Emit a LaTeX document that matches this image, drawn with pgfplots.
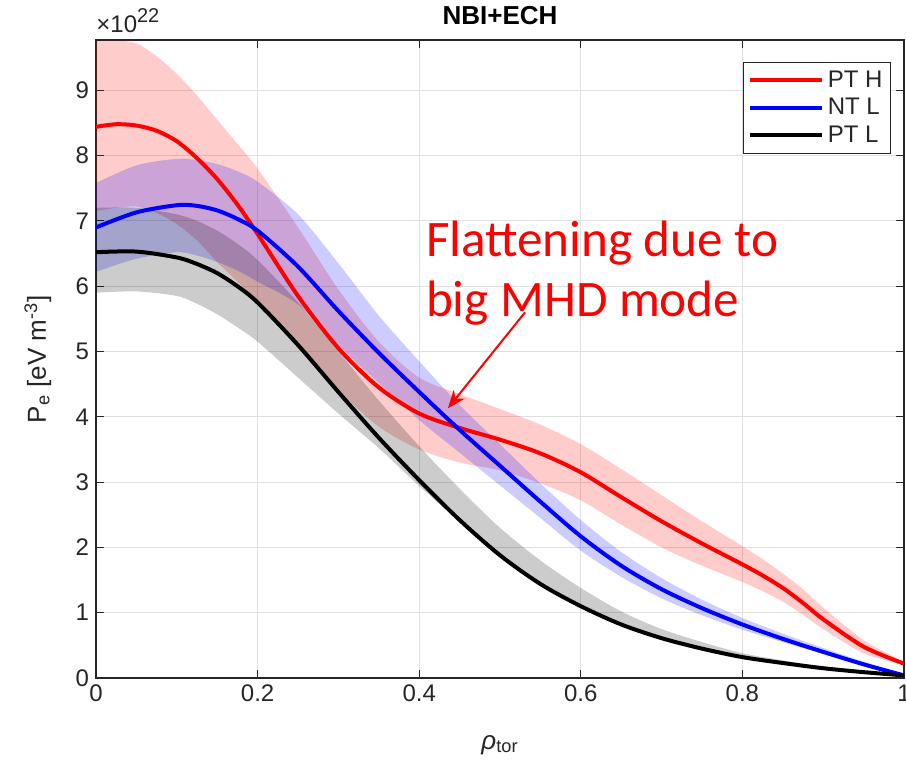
\documentclass[border=0pt]{standalone}
\usepackage{pgfplots}
\pgfplotsset{compat=1.18}
\usepackage{pgfplotstable}
\usepgfplotslibrary{fillbetween}
\usetikzlibrary{arrows.meta}
\usepackage{fontspec}
\setmainfont{Liberation Sans}
\newfontfamily\calibri{Carlito}
\definecolor{axgray}{RGB}{38,38,38}
\definecolor{gridgray}{RGB}{224,224,224}

% PT H
\pgfplotstableread{
rho    m     lo    hi
0.000  8.44  7.15  9.75
0.025  8.48  7.20  9.76
0.050  8.46  7.22  9.72
0.075  8.38  7.12  9.52
0.100  8.22  6.95  9.25
0.125  7.96  6.70  8.92
0.150  7.64  6.37  8.55
0.175  7.25  6.07  8.18
0.200  6.80  5.75  7.80
0.250  5.85  5.05  6.90
0.300  5.05  4.40  5.95
0.350  4.45  3.85  5.15
0.400  4.05  3.50  4.60
0.450  3.83  3.30  4.35
0.500  3.65  3.18  4.12
0.550  3.44  2.98  3.88
0.600  3.15  2.72  3.58
0.650  2.77  2.35  3.20
0.700  2.40  2.00  2.80
0.750  2.06  1.72  2.40
0.800  1.74  1.47  2.02
0.825  1.57  1.33  1.82
0.850  1.38  1.17  1.60
0.875  1.15  0.97  1.36
0.900  0.90  0.75  1.08
0.950  0.48  0.38  0.58
1.000  0.22  0.20  0.25
}\ptH

% NT L
\pgfplotstableread{
rho    m     lo    hi
0.000  6.90  6.22  7.58
0.050  7.13  6.42  7.85
0.100  7.24  6.52  7.95
0.125  7.23  6.47  7.93
0.150  7.16  6.37  7.87
0.175  7.03  6.24  7.76
0.200  6.85  6.07  7.60
0.250  6.30  5.72  7.10
0.300  5.62  5.10  6.35
0.350  4.98  4.52  5.55
0.400  4.38  3.95  4.85
0.450  3.80  3.45  4.18
0.500  3.25  2.95  3.58
0.550  2.70  2.45  2.98
0.600  2.17  1.95  2.42
0.650  1.72  1.55  1.93
0.700  1.36  1.22  1.53
0.750  1.07  0.96  1.20
0.800  0.82  0.74  0.92
0.850  0.60  0.55  0.68
0.900  0.40  0.37  0.46
0.950  0.21  0.19  0.25
1.000  0.04  0.03  0.06
}\ntL

% PT L
\pgfplotstableread{
rho    m     lo    hi
0.000  6.52  5.90  7.20
0.050  6.53  5.92  7.20
0.100  6.44  5.85  7.10
0.125  6.34  5.73  7.00
0.150  6.20  5.57  6.85
0.175  6.00  5.37  6.65
0.200  5.75  5.15  6.40
0.250  5.10  4.60  5.75
0.300  4.38  4.05  5.00
0.350  3.68  3.52  4.25
0.400  3.03  2.94  3.55
0.450  2.42  2.40  2.90
0.500  1.88  1.85  2.30
0.550  1.44  1.42  1.80
0.600  1.10  1.08  1.38
0.650  0.82  0.80  1.02
0.700  0.61  0.59  0.75
0.750  0.45  0.44  0.55
0.800  0.32  0.31  0.38
0.850  0.23  0.22  0.27
0.900  0.15  0.14  0.17
0.950  0.09  0.08  0.10
1.000  0.04  0.04  0.04
}\ptL

\begin{document}
\begin{tikzpicture}
\begin{axis}[
  scale only axis, width=404pt, height=319pt,
  xmin=0, xmax=1, ymin=0, ymax=9.77,
  xtick={0,0.2,0.4,0.6,0.8,1}, xticklabels={0,0.2,0.4,0.6,0.8,1},
  ytick={0,1,2,3,4,5,6,7,8,9},
  grid=major, grid style={gridgray, line width=0.6pt},
  tick align=inside, major tick length=4pt,
  axis line style={axgray, line width=0.6pt},
  every tick/.style={axgray, line width=0.6pt},
  tick label style={font=\fontsize{12}{14}\selectfont, text=axgray},
  /pgf/number format/assume math mode=true,
  title={\bfseries NBI+ECH},
  title style={font=\fontsize{13}{15}\selectfont, text=black, yshift=-2pt},
  xlabel={\textit{ρ}\textsubscript{tor}},
  xlabel style={font=\fontsize{13}{15}\selectfont, text=axgray, at={(axis description cs:0.5,-0.105)}, anchor=center},
  ylabel={P\textsubscript{e} [eV m\textsuperscript{-3}]},
  ylabel style={font=\fontsize{13}{15}\selectfont, text=axgray, at={(axis description cs:-0.072,0.5)}, anchor=center, rotate=0},
  legend style={at={(axis description cs:0.984,0.9655)}, anchor=north east,
    font=\fontsize{12}{14}\selectfont, draw=axgray, line width=0.6pt,
    inner sep=2pt, row sep=0pt, text=axgray},
  legend cell align=left,
  legend image code/.code={\draw[#1] (0pt,0pt) -- (36pt,0pt);},
]
% PT H
\addplot[name path=rhi, draw=none, smooth, forget plot] table[x=rho,y=hi]{\ptH};
\addplot[name path=rlo, draw=none, smooth, forget plot] table[x=rho,y=lo]{\ptH};
\addplot[red, fill opacity=0.2, draw=none, forget plot] fill between[of=rhi and rlo];
\addplot[red, line width=2pt, smooth] table[x=rho,y=m]{\ptH};
\addlegendentry{PT H}
% NT L
\addplot[name path=bhi, draw=none, smooth, forget plot] table[x=rho,y=hi]{\ntL};
\addplot[name path=blo, draw=none, smooth, forget plot] table[x=rho,y=lo]{\ntL};
\addplot[blue, fill opacity=0.2, draw=none, forget plot] fill between[of=bhi and blo];
\addplot[blue, line width=2pt, smooth] table[x=rho,y=m]{\ntL};
\addlegendentry{NT L}
% PT L
\addplot[name path=khi, draw=none, smooth, forget plot] table[x=rho,y=hi]{\ptL};
\addplot[name path=klo, draw=none, smooth, forget plot] table[x=rho,y=lo]{\ptL};
\addplot[black, fill opacity=0.2, draw=none, forget plot] fill between[of=khi and klo];
\addplot[black, line width=2pt, smooth] table[x=rho,y=m]{\ptL};
\addlegendentry{PT L}
% annotation
\draw[red, line width=1pt, -{Stealth[length=9pt,width=7pt]}] (axis cs:0.531,5.6) -- (axis cs:0.4355,4.13);
\node[anchor=base west, inner sep=0pt, text=red, font=\calibri\fontsize{25.6}{30}\selectfont] at (axis cs:0.408,6.45) {Flattening due to};
\node[anchor=base west, inner sep=0pt, text=red, font=\calibri\fontsize{25.6}{30}\selectfont] at (axis cs:0.408,5.53) {big MHD mode};
\end{axis}
\node[anchor=base west, inner sep=0pt, text=axgray, font=\fontsize{12}{14}\selectfont] at ([yshift=3.5pt]current axis.north west) {×10\raisebox{0.85ex}{\fontsize{10}{12}\selectfont 22}};
\pgfresetboundingbox
\path[use as bounding box] ([xshift=-48pt,yshift=-45pt]current axis.south west) rectangle ([xshift=1pt,yshift=20pt]current axis.north east);
\end{tikzpicture}
\end{document}
